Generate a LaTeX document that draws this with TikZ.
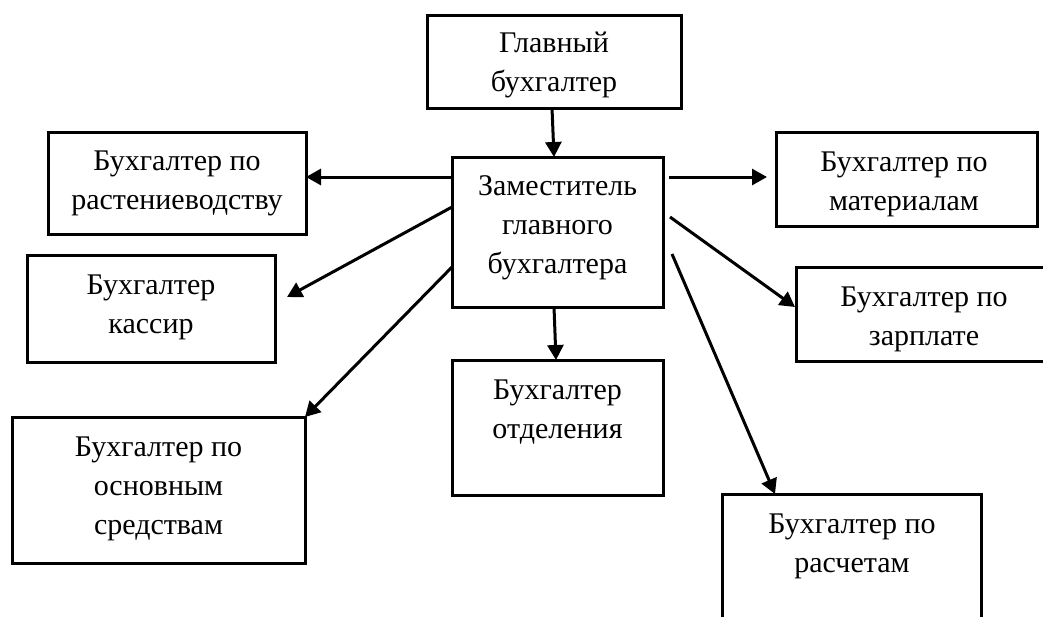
\documentclass[tikz,border=0pt]{standalone}
\usepackage{fontspec}
\setmainfont{Liberation Serif}
\usetikzlibrary{arrows.meta,calc}
\begin{document}
\begin{tikzpicture}[x=1pt,y=-1pt,
  box/.style={draw, line width=3pt, rectangle, inner sep=0pt, outer sep=0pt},
  txt/.style={align=center, inner sep=0pt, font=\fontsize{30}{39}\selectfont},
  arr/.style={line width=3pt, -{Triangle[length=15pt,width=16pt]}}]
\useasboundingbox (0,0) rectangle (1043,616);
\clip (0,0) rectangle (1043,616);

% boxes
\node[box, minimum width=254pt, minimum height=93pt]  (glav)  at (554,61.5)   {};
\node[box, minimum width=211pt, minimum height=150pt] (zam)   at (557.5,232)  {};
\node[box, minimum width=258pt, minimum height=102pt] (rast)  at (177,183)    {};
\node[box, minimum width=248pt, minimum height=107pt] (kass)  at (151,308.5)  {};
\node[box, minimum width=293pt, minimum height=146pt] (osn)   at (158.5,490)  {};
\node[box, minimum width=211pt, minimum height=135pt] (otd)   at (557.5,427.5){};
\node[box, minimum width=261pt, minimum height=94pt]  (mat)   at (906.5,179)  {};
\node[box, minimum width=256pt, minimum height=94pt]  (zarp)  at (924,314)    {};
\node[box, minimum width=259pt, minimum height=146pt] (rasch) at (851.5,567)  {};

% labels
\node[txt] (glavT)  at (554,65)     {Главный\\бухгалтер};
\node[txt] (zamT)   at (557.5,228)  {Заместитель\\главного\\бухгалтера};
\node[txt] (rastT)  at (177,183.5)  {Бухгалтер по\\растениеводству};
\node[txt] (kassT)  at (151,307.5)  {Бухгалтер\\кассир};
\node[txt] (osnT)   at (158.5,488.5){Бухгалтер по\\основным\\средствам};
\node[txt] (otdT)   at (557.5,412)  {Бухгалтер\\отделения};
\node[txt] (matT)   at (904,184)    {Бухгалтер по\\материалам};
\node[txt] (zarpT)  at (924,319)    {Бухгалтер по\\зарплате};
\node[txt] (raschT) at (852,546)    {Бухгалтер по\\расчетам};

% free arrow end
\coordinate (kassTip) at (287,297);

% connectors
\draw[arr] ($(glav.south)+(-2,0)$) -- ($(zam.north)+(-3.5,0)$);
\draw[arr] ($(zam.north west)+(0,20)$) -- ($(rast.east)+(0,-6)$);
\draw[arr] ($(zam.north west)+(0,50)$) -- (kassTip);
\draw[arr] ($(zam.north west)+(0,110)$) -- (osn.north east);
\draw[arr] ($(zam.north east)+(6,20)$) -- ($(mat.west)+(-9,-2)$);
\draw[arr] ($(zam.north east)+(7,60)$) -- ($(zarp.west)+(-1,-7)$);
\draw[arr] ($(zam.north east)+(9,97)$) -- ($(rasch.north west)+(53,0)$);
\draw[arr] ($(zam.south)+(-3.5,0)$) -- ($(otd.north)+(-1.5,0)$);
\end{tikzpicture}
\end{document}
